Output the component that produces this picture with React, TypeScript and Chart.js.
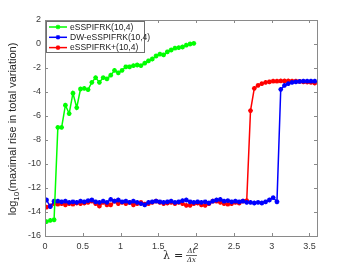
import { useEffect, useRef } from "react";
import { Chart, registerables } from "chart.js";

Chart.register(...registerables);

const lambdaGreen = [
  0.02, 0.07, 0.12, 0.17, 0.22, 0.27, 0.32, 0.37, 0.42, 0.47,
  0.52, 0.57, 0.62, 0.67, 0.72, 0.77, 0.82, 0.87, 0.92, 0.97,
  1.02, 1.07, 1.12, 1.17, 1.22, 1.27, 1.32, 1.37, 1.42, 1.47,
  1.52, 1.57, 1.62, 1.67, 1.72, 1.77, 1.82, 1.87, 1.92, 1.97,
];
const greenValues = [
  -14.8, -14.7, -14.65, -6.95, -6.95, -5.1, -5.8, -4.1, -5.3, -3.75,
  -3.7, -3.8, -3.2, -2.8, -3.2, -2.8, -2.9, -2.6, -2.2, -2.4,
  -2.2, -1.9, -1.9, -1.8, -1.75, -1.8, -1.6, -1.4, -1.25, -1.0,
  -0.85, -0.9, -0.65, -0.5, -0.35, -0.3, -0.25, -0.1, 0.0, 0.05,
];

const lambdaFine = [
  0.02, 0.07, 0.12, 0.17, 0.22, 0.27, 0.32, 0.37, 0.42, 0.47,
  0.52, 0.57, 0.62, 0.67, 0.72, 0.77, 0.82, 0.87, 0.92, 0.97,
  1.02, 1.07, 1.12, 1.17, 1.22, 1.27, 1.32, 1.37, 1.42, 1.47,
  1.52, 1.57, 1.62, 1.67, 1.72, 1.77, 1.82, 1.87, 1.92, 1.97,
  2.02, 2.07, 2.12, 2.17, 2.22, 2.27, 2.32, 2.37, 2.42, 2.47,
  2.52, 2.57, 2.62, 2.67, 2.72, 2.77, 2.82, 2.87, 2.92, 2.97,
  3.02, 3.07, 3.12, 3.17, 3.22, 3.27, 3.32, 3.37, 3.42, 3.47,
  3.52, 3.57,
];
const blueValues = [
  -13.0, -13.55, -13.1, -13.1, -13.15, -13.1, -13.2, -13.15, -13.2, -13.1,
  -13.15, -13.05, -13.0, -13.15, -13.2, -13.1, -13.2, -12.95, -13.1, -13.0,
  -13.15, -13.1, -13.2, -13.1, -13.2, -13.3, -13.4, -13.2, -13.15, -13.1,
  -13.15, -13.2, -13.15, -13.1, -13.2, -13.15, -13.05, -13.0, -13.15, -13.2,
  -13.15, -13.2, -13.15, -13.25, -13.1, -13.0, -12.95, -13.1, -13.05, -13.15,
  -13.1, -13.15, -13.1, -13.2, -13.2, -13.25, -13.2, -13.25, -13.15, -13.0,
  -12.8, -13.15, -3.78, -3.45, -3.3, -3.2, -3.15, -3.12, -3.1, -3.1,
  -3.1, -3.1,
];
const redValues = [
  -13.6, -13.5, -13.3, -13.35, -13.3, -13.4, -13.3, -13.35, -13.25, -13.3,
  -13.25, -13.2, -13.1, -13.3, -13.5, -13.2, -13.4, -13.4, -13.1, -13.3,
  -13.2, -13.3, -13.2, -13.4, -13.3, -13.2, -13.35, -13.3, -13.2, -13.1,
  -13.2, -13.3, -13.25, -13.2, -13.3, -13.2, -13.3, -13.45, -13.45, -13.3,
  -13.25, -13.4, -13.45, -13.3, -13.1, -13.1, -13.2, -13.3, -13.35, -13.3,
  -13.2, -13.25, -13.1, -13.05, -5.55, -3.7, -3.45, -3.3, -3.2, -3.15,
  -3.1, -3.1, -3.08, -3.08, -3.08, -3.1, -3.1, -3.12, -3.15, -3.18,
  -3.2, -3.25,
];

const xTicks = [0, 0.5, 1, 1.5, 2, 2.5, 3, 3.5];
const yTicks = [-16, -14, -12, -10, -8, -6, -4, -2, 0, 2];
const seriesLabels = ["eSSPIFRK(10,4)", "DW-eSSPIFRK(10,4)", "eSSPIFRK+(10,4)"];
const seriesColors = ["#00ff00", "#0000ff", "#ff0000"];
const yTitleParts = ["log", "10", "(maximal rise in total variation)"];

const FONT = "'Liberation Sans', Arial, sans-serif";

function drawStar(ctx: CanvasRenderingContext2D, x: number, y: number, r: number) {
  ctx.beginPath();
  for (let i = 0; i < 4; i++) {
    const a = (i * Math.PI) / 4;
    ctx.moveTo(x - r * Math.cos(a), y - r * Math.sin(a));
    ctx.lineTo(x + r * Math.cos(a), y + r * Math.sin(a));
  }
  ctx.stroke();
}

const decorPlugin = {
  id: "decor",
  afterDatasetsDraw(chart: any) {
    const ctx: CanvasRenderingContext2D = chart.ctx;
    const { left, right, top, bottom } = chart.chartArea;
    const xs = chart.scales.x;
    const ys = chart.scales.y;
    ctx.save();
    // axes box
    ctx.strokeStyle = "#8a8a8a";
    ctx.lineWidth = 1;
    ctx.strokeRect(Math.round(left) + 0.5, Math.round(top) + 0.5, Math.round(right - left), Math.round(bottom - top));
    // inward ticks
    ctx.beginPath();
    const tl = 3;
    xTicks.forEach((v) => {
      const px = Math.round(xs.getPixelForValue(v)) + 0.5;
      ctx.moveTo(px, bottom);
      ctx.lineTo(px, bottom - tl);
      ctx.moveTo(px, top);
      ctx.lineTo(px, top + tl);
    });
    yTicks.forEach((v) => {
      const py = Math.round(ys.getPixelForValue(v)) + 0.5;
      ctx.moveTo(left, py);
      ctx.lineTo(left + tl, py);
      ctx.moveTo(right, py);
      ctx.lineTo(right - tl, py);
    });
    ctx.stroke();

    // legend
    const lx = 46.5, ly = 21.5, lw = 98, lh = 31;
    ctx.fillStyle = "#ffffff";
    ctx.fillRect(lx, ly, lw, lh);
    ctx.strokeStyle = "#6e6e6e";
    ctx.strokeRect(lx, ly, lw, lh);
    ctx.font = `8.5px ${FONT}`;
    ctx.textBaseline = "middle";
    ctx.textAlign = "left";
    seriesLabels.forEach((lab, i) => {
      const yy = ly + 5.5 + i * 10.3;
      ctx.strokeStyle = seriesColors[i];
      ctx.lineWidth = 1.5;
      ctx.beginPath();
      ctx.moveTo(49, yy);
      ctx.lineTo(67, yy);
      ctx.stroke();
      ctx.lineWidth = 1.2;
      drawStar(ctx, 58, yy, 2.3);
      ctx.fillStyle = "#1a1a1a";
      ctx.fillText(lab, 70, yy + 0.5);
    });

    // y title
    ctx.save();
    ctx.translate(13, 129);
    ctx.rotate(-Math.PI / 2);
    ctx.fillStyle = "#262626";
    const fMain = `11px ${FONT}`;
    const fSub = `8px ${FONT}`;
    ctx.font = fMain;
    const w0 = ctx.measureText(yTitleParts[0]).width;
    const w2 = ctx.measureText(yTitleParts[2]).width;
    ctx.font = fSub;
    const w1 = ctx.measureText(yTitleParts[1]).width;
    const total = w0 + w1 + w2;
    let cx = -total / 2;
    ctx.textBaseline = "middle";
    ctx.font = fMain;
    ctx.fillText(yTitleParts[0], cx, 0);
    cx += w0;
    ctx.font = fSub;
    ctx.fillText(yTitleParts[1], cx, 4);
    cx += w1;
    ctx.font = fMain;
    ctx.fillText(yTitleParts[2], cx, 0);
    ctx.restore();

    // x title: λ = Δt / Δx
    ctx.fillStyle = "#262626";
    ctx.textBaseline = "alphabetic";
    ctx.textAlign = "left";
    ctx.font = `11px 'DejaVu Serif', serif`;
    ctx.fillText("λ", 163, 259);
    ctx.fillText("=", 174, 259);
    ctx.font = `italic 7px 'DejaVu Serif', serif`;
    ctx.textAlign = "center";
    ctx.fillText("Δt", 191.5, 253);
    ctx.fillText("Δx", 191.5, 262);
    ctx.strokeStyle = "#262626";
    ctx.lineWidth = 0.7;
    ctx.beginPath();
    ctx.moveTo(186, 255.5);
    ctx.lineTo(197, 255.5);
    ctx.stroke();
    ctx.restore();
  },
};

export default function App() {
  const canvasRef = useRef<HTMLCanvasElement | null>(null);

  useEffect(() => {
    const canvas = canvasRef.current;
    if (!canvas) return;
    const mk = (xsArr: number[], ysArr: number[]) => xsArr.map((x, i) => ({ x, y: ysArr[i] }));
    const ds = (i: number, data: { x: number; y: number }[]) => ({
      label: seriesLabels[i],
      data,
      borderColor: seriesColors[i],
      backgroundColor: seriesColors[i],
      borderWidth: 1.5,
      pointStyle: "star" as const,
      pointRadius: 2.4,
      pointBorderWidth: 1.4,
      pointBorderColor: seriesColors[i],
      pointHoverRadius: 2.4,
      tension: 0,
    });
    const chart = new Chart(canvas, {
      type: "line",
      data: {
        datasets: [
          ds(0, mk(lambdaGreen, greenValues)),
          ds(1, mk(lambdaFine, blueValues)),
          ds(2, mk(lambdaFine, redValues)),
        ],
      },
      options: {
        responsive: false,
        animation: false,
        events: [],
        layout: { padding: { left: 0, right: 33, top: 20, bottom: 0 } },
        plugins: { legend: { display: false }, tooltip: { enabled: false } },
        scales: {
          x: {
            type: "linear",
            min: 0,
            max: 3.6,
            afterBuildTicks: (s: any) => {
              s.ticks = xTicks.map((v) => ({ value: v }));
            },
            afterFit: (s: any) => {
              s.height = 29;
            },
            grid: { display: false, drawTicks: false },
            border: { display: false },
            ticks: {
              padding: 5,
              autoSkip: false,
              maxRotation: 0,
              color: "#3a3a3a",
              font: { family: FONT, size: 9 },
              callback: (v: any) => String(v),
            },
          },
          y: {
            type: "linear",
            min: -16,
            max: 2,
            afterBuildTicks: (s: any) => {
              s.ticks = yTicks.map((v) => ({ value: v }));
            },
            afterFit: (s: any) => {
              s.width = 45;
            },
            grid: { display: false, drawTicks: false },
            border: { display: false },
            ticks: {
              padding: 4,
              autoSkip: false,
              color: "#3a3a3a",
              font: { family: FONT, size: 9 },
              callback: (v: any) => String(v),
            },
          },
        },
      },
      plugins: [decorPlugin],
    });
    return () => chart.destroy();
  }, []);

  return (
    <div style={{ position: "absolute", left: 0, top: 0, width: 350, height: 265, background: "#fff" }}>
      <canvas ref={canvasRef} width={350} height={265} style={{ display: "block" }} />
    </div>
  );
}
